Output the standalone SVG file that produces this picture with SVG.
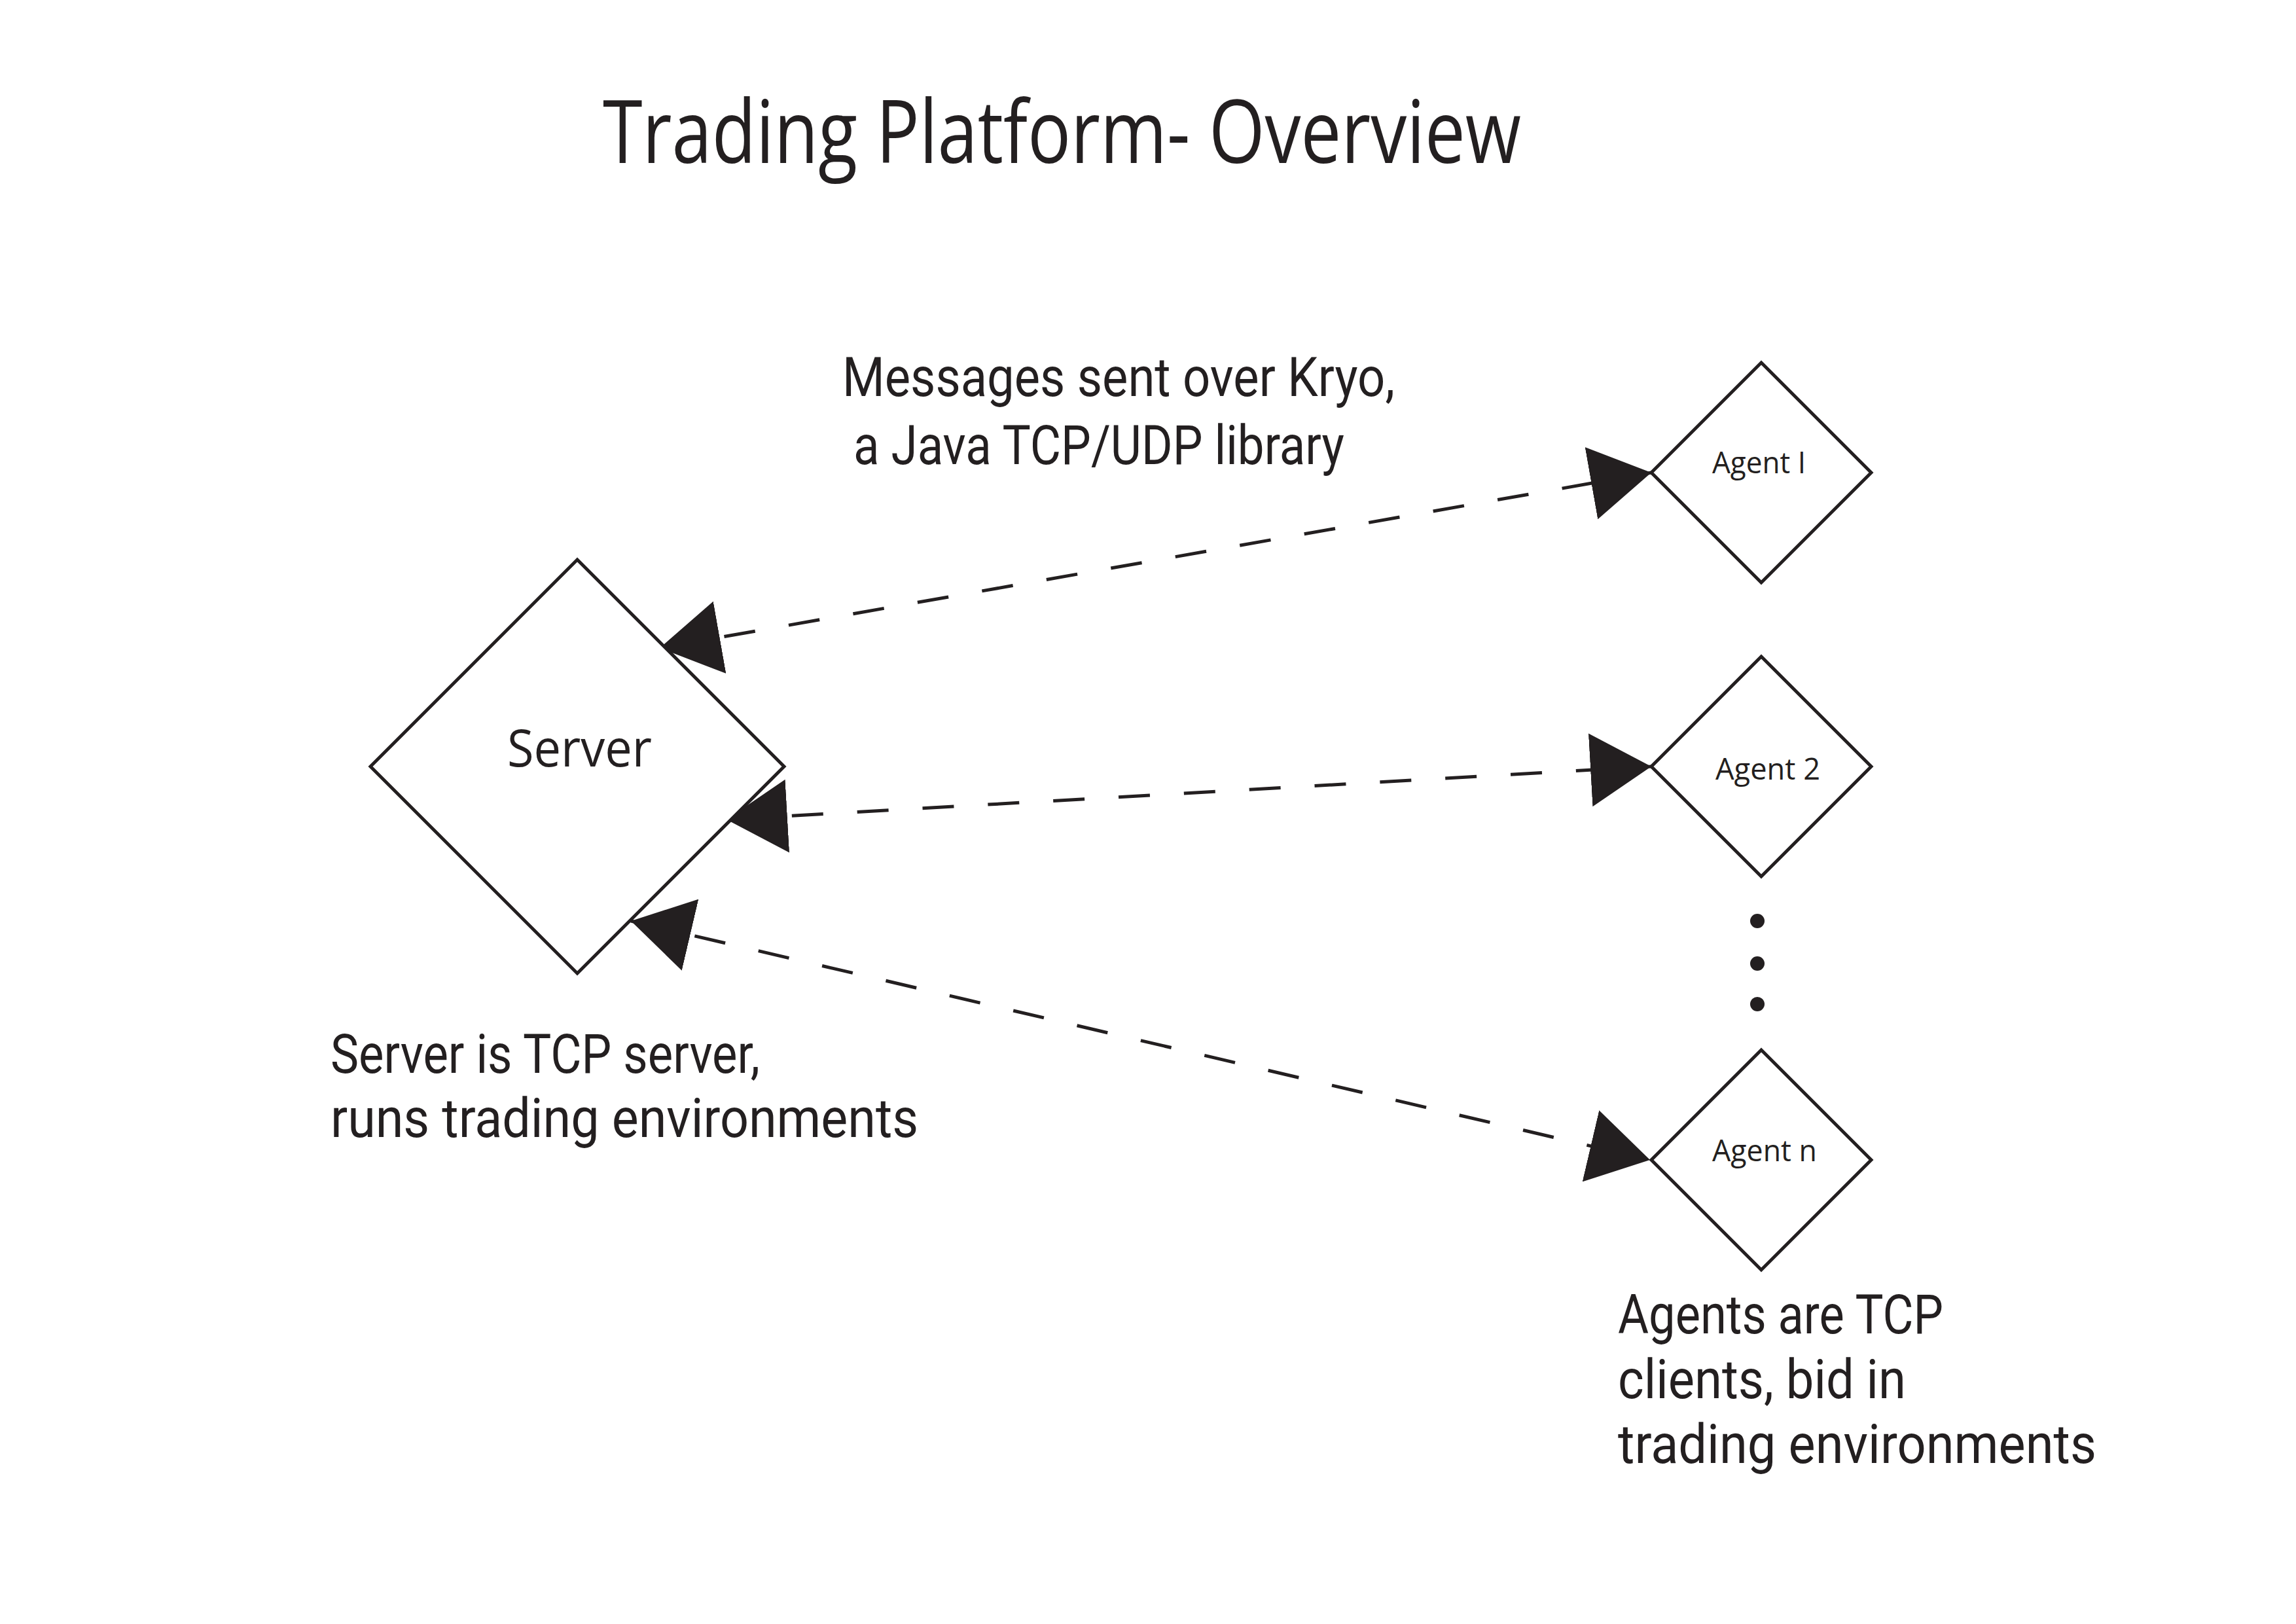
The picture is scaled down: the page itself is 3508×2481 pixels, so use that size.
<svg xmlns="http://www.w3.org/2000/svg" width="3508" height="2481" viewBox="0 0 3508 2481">
<style>
.shape{fill:#ffffff;stroke:#231f20;stroke-width:5;stroke-linejoin:miter}
.conn{fill:none;stroke:#231f20;stroke-width:5;stroke-dasharray:48 52}
.t{font-family:"Open Sans","Noto Sans","Liberation Sans",sans-serif;fill:#231f20}
.m{font-family:Roboto,"Open Sans","Liberation Sans",sans-serif;fill:#231f20}
.title{font-size:134px}
.lbl{font-size:83px}
.node{font-size:78px}
.small{font-size:45px}
.dot{fill:#231f20}
</style>
<defs>
<marker id="ah" markerUnits="userSpaceOnUse" markerWidth="95" markerHeight="112" viewBox="0 0 95 112" refX="93" refY="56" orient="auto-start-reverse">
<path d="M0,0 L93,56 L0,112 z" fill="#231f20"/>
</marker>
</defs>
<rect width="3508" height="2481" fill="#ffffff"/>
<g id="title">
<text class="t title" x="921" y="249" textLength="1403" lengthAdjust="spacingAndGlyphs">Trading Platform- Overview</text>
</g>
<g id="connectors">
<line class="conn" x1="1008" y1="990" x2="2523" y2="722" marker-start="url(#ah)" marker-end="url(#ah)"/>
<line class="conn" x1="1110" y1="1252" x2="2523" y2="1171" marker-start="url(#ah)" marker-end="url(#ah)"/>
<line class="conn" x1="964" y1="1407" x2="2521" y2="1772" marker-start="url(#ah)" marker-end="url(#ah)"/>
</g>
<g id="server">
<polygon class="shape" points="882,855 1198,1171 882,1487 566,1171"/>
<text class="t node" x="775" y="1171" textLength="221" lengthAdjust="spacingAndGlyphs">Server</text>
</g>
<g id="agent-1">
<polygon class="shape" points="2691,554 2859,722 2691,890 2523,722"/>
<text class="t small" x="2616" y="723" textLength="143" lengthAdjust="spacingAndGlyphs">Agent I</text>
</g>
<g id="agent-2">
<polygon class="shape" points="2691,1003 2859,1171 2691,1339 2523,1171"/>
<text class="t small" x="2621" y="1191" textLength="160" lengthAdjust="spacingAndGlyphs">Agent 2</text>
</g>
<g id="agent-n">
<polygon class="shape" points="2691,1604 2859,1772 2691,1940 2523,1772"/>
<text class="t small" x="2616" y="1774" textLength="160" lengthAdjust="spacingAndGlyphs">Agent n</text>
</g>
<g id="ellipsis">
<circle class="dot" cx="2685" cy="1407" r="11"/>
<circle class="dot" cx="2685" cy="1472" r="11"/>
<circle class="dot" cx="2685" cy="1534" r="11"/>
</g>
<g id="message-label">
<text class="m lbl" x="1287" y="605" textLength="844" lengthAdjust="spacingAndGlyphs">Messages sent over Kryo,</text>
<text class="m lbl" x="1304" y="709" textLength="750" lengthAdjust="spacingAndGlyphs">a Java TCP/UDP library</text>
</g>
<g id="server-note">
<text class="m lbl" x="505" y="1639" textLength="656" lengthAdjust="spacingAndGlyphs">Server is TCP server,</text>
<text class="m lbl" x="505" y="1737" textLength="898" lengthAdjust="spacingAndGlyphs">runs trading environments</text>
</g>
<g id="agent-note">
<text class="m lbl" x="2472" y="2037" textLength="497" lengthAdjust="spacingAndGlyphs">Agents are TCP</text>
<text class="m lbl" x="2472" y="2136" textLength="440" lengthAdjust="spacingAndGlyphs">clients, bid in</text>
<text class="m lbl" x="2472" y="2235" textLength="731" lengthAdjust="spacingAndGlyphs">trading environments</text>
</g>
</svg>
